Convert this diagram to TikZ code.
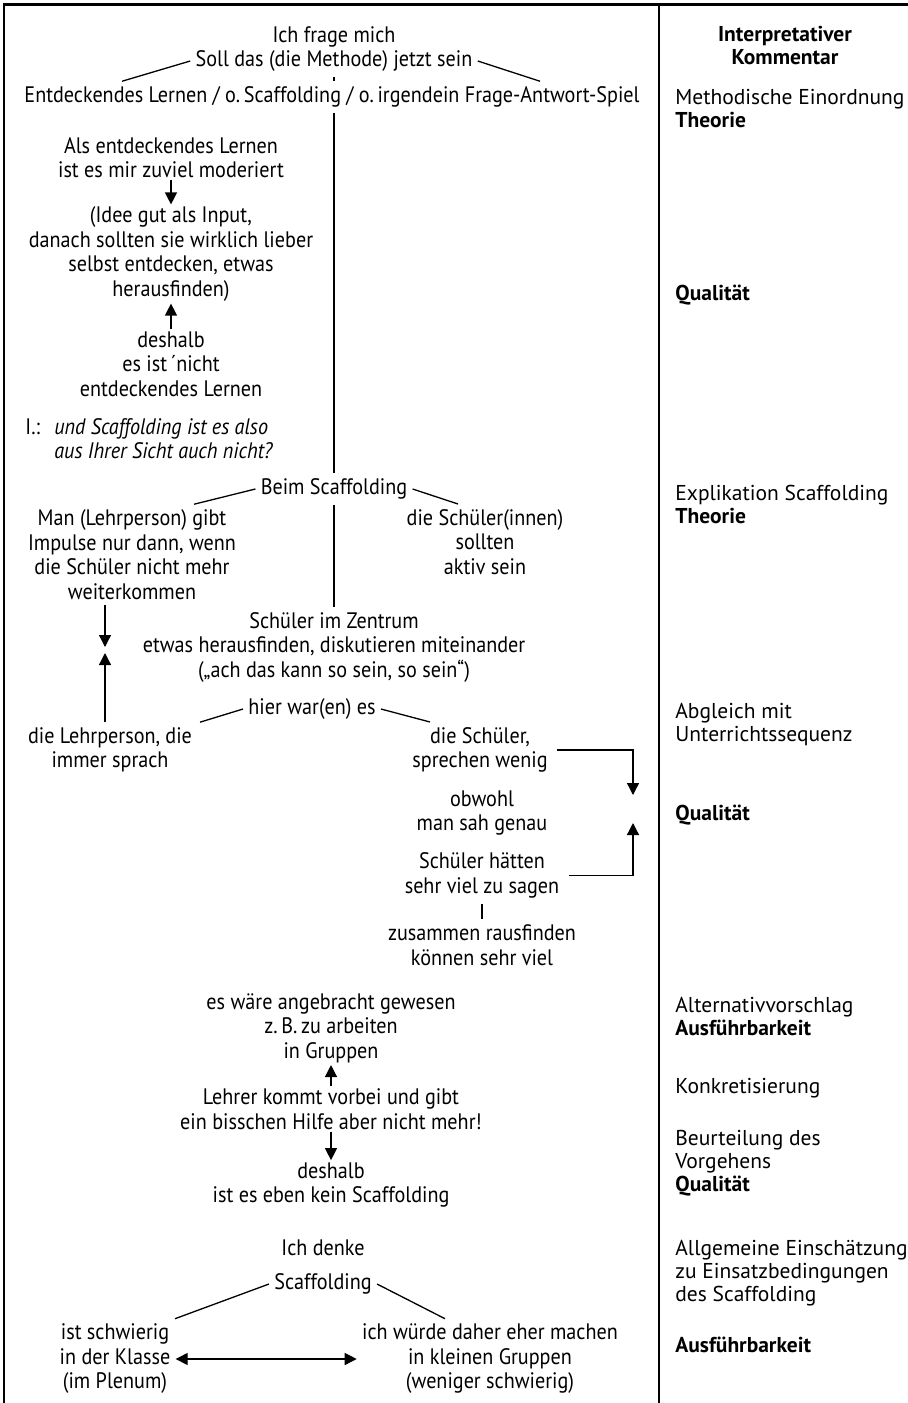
\documentclass[tikz,border=0pt]{standalone}
\usepackage{fontspec}
\setmainfont{PT Sans}
\newfontfamily\schmal{PT Sans}[FakeStretch=0.9]
\usetikzlibrary{arrows.meta}

\begin{document}
\begin{tikzpicture}[x=0.5pt, y=-0.5pt,
    txt/.style={align=center, inner sep=2.5pt, font=\schmal\fontsize{11.2}{12.25}\selectfont},
    kom/.style={align=left, anchor=west, inner sep=0pt, font=\fontsize{10.75}{11.5}\selectfont},
    lin/.style={line width=0.65pt},
    pfeil/.style={line width=0.65pt, shorten <=-1.5pt, shorten >=-1.5pt, -{Triangle[length=6pt, width=6pt]}},
    doppel/.style={line width=0.65pt, {Triangle[length=6pt, width=6pt]}-{Triangle[length=6pt, width=6pt]}}]
    \useasboundingbox (0,0) rectangle (908,1403);

    % Rahmen
    \draw[line width=1.5pt] (3,4) -- (908,4);
    \draw[line width=1pt] (4,3) -- (4,1403);
    \draw[line width=0.85pt] (659,4) -- (659,1403);

    % Methode
    \node[txt] (frage) at (334,37) {Ich frage mich};
    \node[txt] (soll) at (334,61) {Soll das (die Methode) jetzt sein};
    \node[txt] (entd) at (332,97) {Entdeckendes Lernen / o.\,Scaffolding / o.\,irgendein Frage-Antwort-Spiel};
    \draw[lin] (soll.west) -- ([xshift=-105pt]entd.north);
    \draw[lin] (soll.east) -- ([xshift=104pt]entd.north);
    \draw[lin] (soll.south) -- (soll.south |- entd.north);

    \node[txt] (als) at (171,157.5) {Als entdeckendes Lernen\\ist es mir zuviel moderiert};
    \node[txt] (idee) at (171,254) {(Idee gut als Input,\\danach sollten sie wirklich lieber\\selbst entdecken, etwas\\herausfinden)};
    \node[txt] (desh) at (171,364) {deshalb\\es ist\,´nicht\\entdeckendes Lernen};
    \draw[pfeil] (als) -- (idee);
    \draw[pfeil] (desh) -- (idee);

    % Interviewerin
    \node[txt, anchor=west] (int) at (20,427) {I.:};
    \node[txt, anchor=west, align=left, font=\schmal\itshape\fontsize{11.2}{12.25}\selectfont] (frg) at (49,438.5) {und Scaffolding ist es also\\aus Ihrer Sicht auch nicht?};

    % Scaffolding
    \node[txt] (beim) at (334,489) {Beim Scaffolding};
    \draw[lin] (entd.south -| beim.north) -- (beim.north);
    \node[txt] (man) at (132,554.5) {Man (Lehrperson) gibt\\Impulse nur dann, wenn\\die Schüler nicht mehr\\weiterkommen};
    \node[txt] (akt) at (485,542) {die Schüler(innen)\\sollten\\aktiv sein};
    \node[txt] (zent) at (334,647) {Schüler im Zentrum\\etwas herausfinden, diskutieren miteinander\\(„ach das kann so sein, so sein“)};
    \draw[lin] (beim.west) -- ([xshift=31pt]man.north);
    \draw[lin] (beim.east) -- ([xshift=-13.5pt]akt.north);
    \draw[lin] (beim.south) -- (zent.north);

    % Unterricht
    \node[txt] (hier) at (312,709) {hier war(en) es};
    \node[txt] (lehr) at (110,750) {die Lehrperson, die\\immer sprach};
    \node[txt] (spr) at (480,750) {die Schüler,\\sprechen wenig};
    \draw[lin] (hier.west) -- ([xshift=45pt]lehr.north);
    \draw[lin] (hier.east) -- ([xshift=-25pt]spr.north);
    \coordinate (treff) at (105,650);
    \draw[pfeil, shorten <=0pt, shorten >=1.5pt] (treff |- man.south) -- (treff);
    \draw[pfeil, shorten <=0pt, shorten >=1.5pt] (treff |- lehr.north) -- (treff);

    \node[txt] (obw) at (482,813) {obwohl\\man sah genau};
    \node[txt] (haett) at (482,875.5) {Schüler hätten\\sehr viel zu sagen};
    \node[txt] (zus) at (482,945) {zusammen rausfinden\\können sehr viel};
    \draw[lin] (haett.south) -- (zus.north);
    \coordinate (rechts) at (633,809);
    \draw[pfeil, shorten <=0pt, shorten >=0pt] ([xshift=2pt]spr.east) -| ([yshift=7pt]rechts);
    \draw[pfeil, shorten <=0pt, shorten >=0pt] ([xshift=2pt]haett.east) -| ([yshift=-7pt]rechts);

    % Vorschlag
    \node[txt] (waere) at (331,1028) {es wäre angebracht gewesen\\z.\,B.\,zu arbeiten\\in Gruppen};
    \node[txt] (hilfe) at (331,1109) {Lehrer kommt vorbei und gibt\\ein bisschen Hilfe aber nicht mehr!};
    \node[txt] (kein) at (331,1185) {deshalb\\ist es eben kein Scaffolding};
    \draw[pfeil] (hilfe) -- (waere);
    \draw[pfeil] (hilfe) -- (kein);

    % Einschaetzung
    \node[txt] (denke) at (323,1248) {Ich denke};
    \node[txt] (scaf) at (323,1284) {Scaffolding};
    \node[txt] (schw) at (115,1359) {ist schwierig\\in der Klasse\\(im Plenum)};
    \node[txt] (grup) at (490,1359) {ich würde daher eher machen\\in kleinen Gruppen\\(weniger schwierig)};
    \draw[lin] (scaf.west) -- ([xshift=30pt]schw.north);
    \draw[lin] (scaf.east) -- ([xshift=-22.5pt]grup.north);
    \draw[doppel] (schw.east) -- (grup.west);

    % Kommentarspalte
    \node[kom, anchor=center, align=center, font=\bfseries\fontsize{10.75}{11.5}\selectfont] (kopf) at (785,46) {Interpretativer\\Kommentar};
    \node[kom] (k1) at (675,109) {Methodische Einordnung\\\textbf{Theorie}};
    \node[kom] (k2) at (675,295) {\textbf{Qualität}};
    \node[kom] (k3) at (675,504.5) {Explikation Scaffolding\\\textbf{Theorie}};
    \node[kom] (k4) at (675,724.5) {Abgleich mit\\Unterrichtssequenz};
    \node[kom] (k5) at (675,815) {\textbf{Qualität}};
    \node[kom] (k6) at (675,1016.5) {Alternativvorschlag\\\textbf{Ausführbarkeit}};
    \node[kom] (k7) at (675,1088) {Konkretisierung};
    \node[kom] (k8) at (675,1163) {Beurteilung des\\Vorgehens\\\textbf{Qualität}};
    \node[kom] (k9) at (675,1273) {Allgemeine Einschätzung\\zu Einsatzbedingungen\\des Scaffolding};
    \node[kom] (k10) at (675,1345) {\textbf{Ausführbarkeit}};
\end{tikzpicture}
\end{document}
